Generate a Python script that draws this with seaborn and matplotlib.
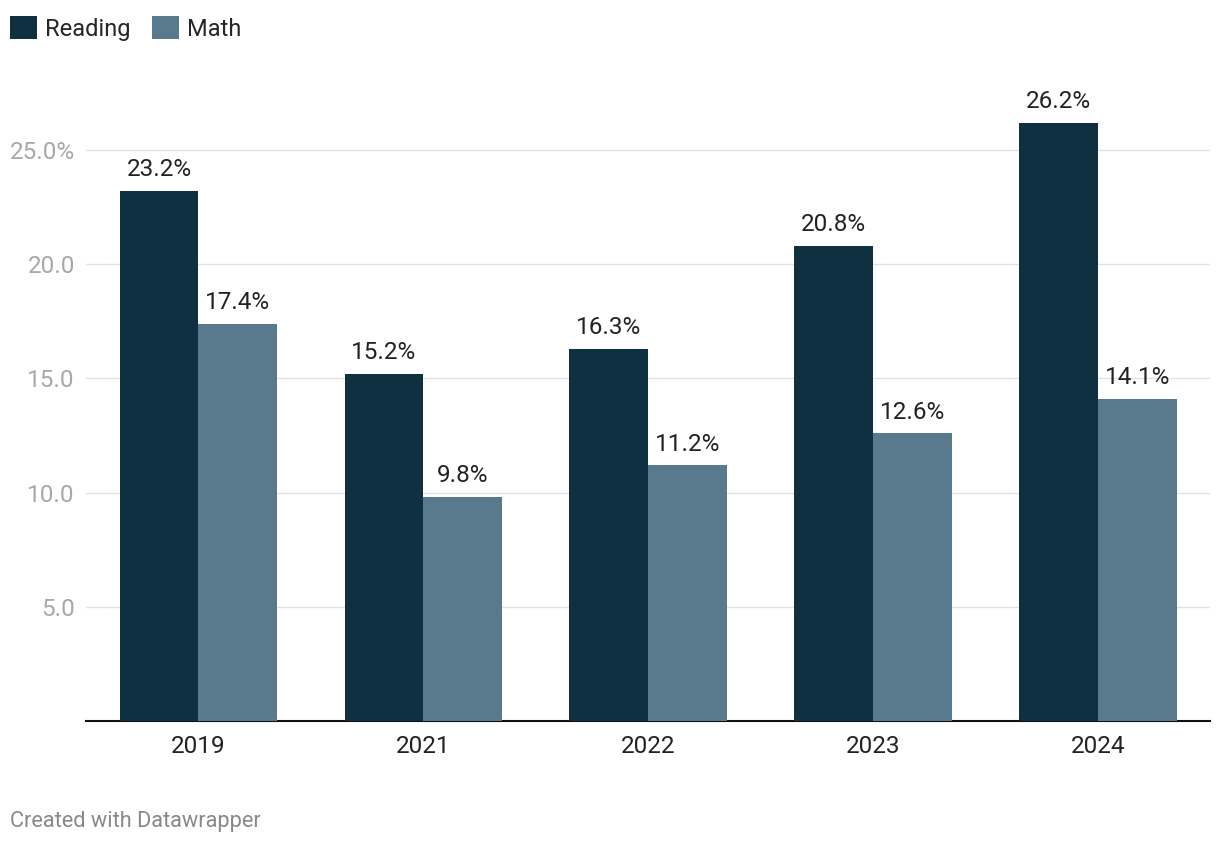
import pandas as pd
import seaborn as sns
import matplotlib.pyplot as plt

years = ['2019', '2021', '2022', '2023', '2024']
reading = [23.2, 15.2, 16.3, 20.8, 26.2]
math = [17.4, 9.8, 11.2, 12.6, 14.1]
subjects = ['Reading', 'Math']
colors = ['#0e3041', '#587a8c']
yticks = [5, 10, 15, 20, 25]
ytick_labels = ['5.0', '10.0', '15.0', '20.0', '25.0%']

df = pd.DataFrame({
    'Year': years * 2,
    'Value': reading + math,
    'Subject': ['Reading'] * len(years) + ['Math'] * len(years),
})

sns.set_style('white')
plt.rcParams['font.family'] = ['Roboto', 'DejaVu Sans']

fig = plt.figure(figsize=(12.2, 8.44), dpi=100)
ax = fig.add_axes([0.0705, 0.1457, 0.9215, 0.7577])

sns.barplot(data=df, x='Year', y='Value', hue='Subject', hue_order=subjects,
            palette=colors, width=0.7, saturation=1, linewidth=0,
            ax=ax, zorder=3)

# value labels above each bar
for cont in ax.containers:
    ax.bar_label(cont, fmt='%.1f%%', padding=7, fontsize=17.5, color='#222222')

ax.set_ylim(0, 28)
ax.set_xlim(-0.5, 4.5)
ax.set_yticks(yticks)
ax.set_yticklabels(ytick_labels)
ax.grid(axis='y', color='#e2e2e2', linewidth=1, zorder=0)
ax.tick_params(axis='y', length=0, pad=8, labelsize=17.5, labelcolor='#a8a8a8')
ax.tick_params(axis='x', length=0, pad=10, labelsize=17.5, labelcolor='#222222')
ax.set_xlabel('')
ax.set_ylabel('')
for s in ['top', 'right', 'left']:
    ax.spines[s].set_visible(False)
ax.spines['bottom'].set_color('#111111')
ax.spines['bottom'].set_linewidth(1.5)

leg = ax.legend(loc='upper left', bbox_to_anchor=(0.008, 0.981), bbox_transform=fig.transFigure,
                ncol=2, frameon=False, fontsize=17, handlelength=1.15, handleheight=1.15,
                handletextpad=0.35, columnspacing=0.9, borderaxespad=0, borderpad=0)
for h in leg.legend_handles:
    h.set_linewidth(0)

fig.text(0.008, 0.027, 'Created with Datawrapper', fontsize=15.7, color='#888888',
         ha='left', va='center')

fig.savefig('out.png', dpi=100)
